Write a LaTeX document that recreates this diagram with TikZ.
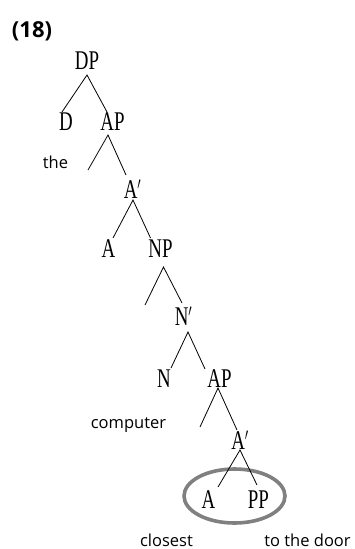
\documentclass[tikz,border=0pt]{standalone}
\usepackage{fontspec}
\usepackage{graphicx}
\newfontfamily\osans{Open Sans}
\newfontfamily\tser{Liberation Serif}
\usetikzlibrary{shapes.geometric}
\newcommand\lab[1]{\scalebox{0.7}[1]{\tser\fontsize{27}{32}\selectfont #1}}
\begin{document}
\begin{tikzpicture}[x=1pt,y=-1pt,
  lbl/.style={inner sep=0pt,outer sep=0pt},
  wrd/.style={inner sep=0pt,anchor=base,font=\osans\fontsize{16.5}{20}\selectfont},
  br/.style={line width=0.8pt,black},
  ring/.style={ellipse,draw=black!50,line width=3.6pt,inner sep=0pt}]
\useasboundingbox (0,0) rectangle (354,549);
% number
\node[lbl,font=\osans\bfseries\fontsize{22}{26}\selectfont] (num) at (32,31) {(18)};
% category labels
\node[lbl] (DP)  at (87,61)    {\lab{DP}};
\node[lbl] (D)   at (66,122)   {\lab{D}};
\node[lbl] (AP1) at (112.5,122){\lab{AP}};
\node[lbl] (Ab1) at (132.5,189){\lab{A$'$}};
\node[lbl] (A1)  at (108.5,249){\lab{A}};
\node[lbl] (NP)  at (160.5,249){\lab{NP}};
\node[lbl] (Nb)  at (183.5,316){\lab{N$'$}};
\node[lbl] (N)   at (164,379)  {\lab{N}};
\node[lbl] (AP2) at (219.5,379){\lab{AP}};
\node[lbl] (Ab2) at (240,440)  {\lab{A$'$}};
\node[lbl] (A2)  at (208.5,500){\lab{A}};
\node[lbl] (PP)  at (258.5,500){\lab{PP}};
% words
\node[wrd] (the)  at (55.5,168)  {the};
\node[wrd] (comp) at (128.5,428) {computer};
\node[wrd] (clo)  at (166.5,546) {closest};
\node[wrd] (door) at (307.5,546) {to the door};
% free branch ends
\coordinate (f1) at (88,170);
\coordinate (f2) at (145,305);
\coordinate (f3) at (200,427);
% ellipse
\node[ring,minimum width=101pt,minimum height=54pt] (circ) at (234.5,496) {};
% branches
\draw[br] ([shift={(-4,-10)}]D.center) -- ([shift={(0,14)}]DP.center) -- ([shift={(-5.5,-10)}]AP1.center);
\draw[br] (f1) -- ([shift={(-4.5,13)}]AP1.center) -- ([shift={(-6.5,-14)}]Ab1.center);
\draw[br] ([shift={(4.5,-11)}]A1.center) -- ([shift={(0.5,11)}]Ab1.center) -- ([shift={(-10,-11)}]NP.center);
\draw[br] (f2) -- ([shift={(3,18)}]NP.center) -- ([shift={(-1.5,-13)}]Nb.center);
\draw[br] ([shift={(7,-11)}]N.center) -- ([shift={(4.5,16)}]Nb.center) -- ([shift={(-14.5,-10)}]AP2.center);
\draw[br] (f3) -- ([shift={(-1.5,9)}]AP2.center) -- ([shift={(-3,-10)}]Ab2.center);
\draw[br] ([shift={(9.5,-13)}]A2.center) -- ([shift={(0,10)}]Ab2.center) -- ([shift={(-1.5,-15)}]PP.center);
\end{tikzpicture}
\end{document}
